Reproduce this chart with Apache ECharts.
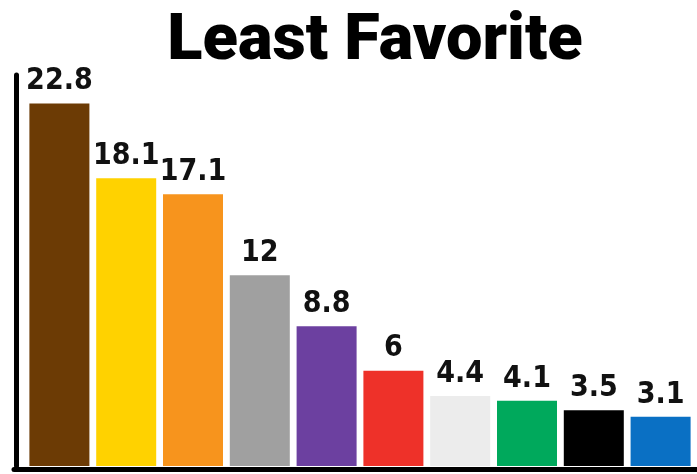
<!DOCTYPE html>
<html>
<head>
<meta charset="utf-8">
<script src="https://cdn.jsdelivr.net/npm/echarts@6/dist/echarts.min.js"></script>
<style>
  html, body { margin: 0; padding: 0; background: #fff; }
  #chart { width: 697px; height: 474px; }
</style>
</head>
<body>
<div id="chart"></div>
<script>
const categories = ['A', 'B', 'C', 'D', 'E', 'F', 'G', 'H', 'I', 'J']
const values = [22.8, 18.1, 17.1, 12, 8.8, 6, 4.4, 4.1, 3.5, 3.1]
const barColors = ['#6c3b05', '#ffd200', '#f7941d', '#a0a0a0', '#6c40a0', '#ee3129', '#ececec', '#00a95c', '#000000', '#0a70c4']

const chart = echarts.init(document.getElementById('chart'))

chart.setOption({
  animation: false,
  title: {
    text: 'Least Favorite',
    left: 370,
    textAlign: 'center',
    top: 5,
    textStyle: {
      fontFamily: 'Roboto',
      fontWeight: 900,
      fontSize: 65,
      color: '#000'
    }
  },
  grid: [
    { left: 26, right: 3, top: 75, bottom: 8 },
    { left: 14, right: 0, top: 75, bottom: 5 }
  ],
  xAxis: [
    {
      type: 'category',
      data: categories,
      gridIndex: 0,
      axisLine: { show: false },
      axisTick: { show: false },
      axisLabel: { show: false }
    },
    {
      type: 'category',
      data: [''],
      gridIndex: 1,
      axisLine: { show: true, lineStyle: { color: '#000', width: 5, cap: 'round' } },
      axisTick: { show: false },
      axisLabel: { show: false }
    }
  ],
  yAxis: [
    {
      type: 'value',
      gridIndex: 0,
      min: 0,
      max: 24.6,
      offset: 10,
      axisLine: { show: true, lineStyle: { color: '#000', width: 5, cap: 'round' } },
      axisTick: { show: false },
      axisLabel: { show: false },
      splitLine: { show: false }
    },
    {
      type: 'value',
      gridIndex: 1,
      show: false
    }
  ],
  series: [
    {
      type: 'bar',
      xAxisIndex: 0,
      yAxisIndex: 0,
      barWidth: 60,
      data: values.map((v, i) => ({ value: v, itemStyle: { color: barColors[i] } })),
      label: {
        show: true,
        position: 'top',
        distance: 7,
        fontFamily: '"DejaVu Sans Condensed", sans-serif',
        fontWeight: 'bold',
        fontSize: 30,
        color: '#111'
      }
    }
  ]
})
</script>
</body>
</html>
